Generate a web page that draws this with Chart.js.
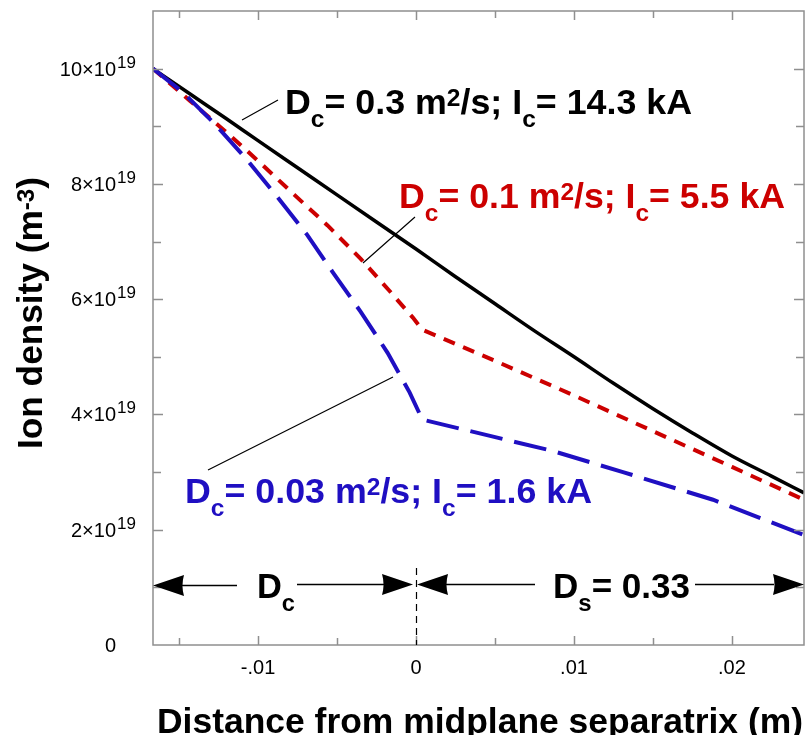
<!DOCTYPE html>
<html>
<head>
<meta charset="utf-8">
<script src="https://cdn.jsdelivr.net/npm/chart.js@4.4.1/dist/chart.umd.min.js"></script>
<style>
  html, body { margin: 0; padding: 0; background: #fff; }
  canvas { display: block; }
</style>
</head>
<body>
<canvas id="density" width="807" height="735"></canvas>
<script>
// distance from midplane separatrix (m), ion density in units of 1e19 m^-3
const xMin = -0.01665;
const xMax = 0.02456;
const yMax = 11;

const dist03 = [-0.01665, -0.0143, -0.012, -0.01, -0.0075, -0.005, -0.0025, 0, 0.0025, 0.005, 0.0075, 0.01, 0.0125, 0.015, 0.0175, 0.02, 0.0225, 0.02456];
const dens03 = [10, 9.56, 9.13, 8.75, 8.28, 7.81, 7.34, 6.87, 6.39, 5.92, 5.45, 5.0, 4.54, 4.10, 3.68, 3.28, 2.93, 2.64];

const dist01 = [-0.01665, -0.0143, -0.0121, -0.01, -0.0077, -0.0056, -0.0035, -0.0017, -0.0002, 0.0004, 0.005, 0.01, 0.015, 0.02, 0.02456];
const dens01 = [10, 9.44, 8.92, 8.40, 7.81, 7.28, 6.70, 6.15, 5.68, 5.47, 4.93, 4.33, 3.71, 3.09, 2.52];

const dist003 = [-0.01665, -0.0148, -0.0127, -0.0107, -0.0088, -0.0069, -0.0053, -0.0035, -0.0018, -0.0004, 0.0004, 0.0086, 0.0131, 0.0188, 0.02456];
const dens003 = [10, 9.6, 9.03, 8.42, 7.78, 7.12, 6.48, 5.78, 5.07, 4.38, 3.91, 3.37, 3.0, 2.52, 1.91];

const xTicks = [-0.015, -0.01, -0.005, 0, 0.005, 0.01, 0.015, 0.02];
const xTickLabels = { "-0.01": "-.01", "0": "0", "0.01": ".01", "0.02": ".02" };
const yTicks = [1, 2, 3, 4, 5, 6, 7, 8, 9, 10];
const yTickLabels = [0, 2, 4, 6, 8, 10];

const RED = "#cc0000";
const BLUE = "#1f0fc2";

const toPoints = (xs, ys) => xs.map((x, i) => ({ x: x, y: ys[i] }));

const BOLD = "'Liberation Sans', Arial, Helvetica, sans-serif";

// draw text with sub/superscripts, stretched to a target width
function drawRich(ctx, parts, x, y, size, color, targetW) {
  const small = Math.round(size * 0.68);
  const fontFor = (p) => "bold " + (p.sub || p.sup ? small : size) + "px " + BOLD;
  let w = 0;
  parts.forEach((p) => {
    ctx.font = fontFor(p);
    w += ctx.measureText(p.t).width;
  });
  const sx = targetW ? targetW / w : 1;
  ctx.save();
  ctx.translate(x, y);
  ctx.scale(sx, 1);
  ctx.fillStyle = color;
  ctx.textBaseline = "alphabetic";
  ctx.textAlign = "left";
  let cx = 0;
  parts.forEach((p) => {
    ctx.font = fontFor(p);
    let dy = 0;
    if (p.sub) dy = size * 0.38;
    if (p.sup) dy = -size * 0.22;
    ctx.fillText(p.t, cx, dy);
    cx += ctx.measureText(p.t).width;
  });
  ctx.restore();
}

function arrowHead(ctx, tipX, y, dir) {
  // dir = -1 points left, 1 points right
  const len = 31, half = 10.5;
  const backX = tipX - dir * len;
  ctx.beginPath();
  ctx.moveTo(tipX, y);
  ctx.lineTo(backX, y - half);
  ctx.quadraticCurveTo(backX + dir * 3, y, backX, y + half);
  ctx.closePath();
  ctx.fill();
}

const decor = {
  id: "decor",
  afterDraw(chart) {
    const ctx = chart.ctx;
    const xs = chart.scales.x;
    const ys = chart.scales.y;
    const a = chart.chartArea;
    ctx.save();

    // frame + inward ticks
    ctx.strokeStyle = "#8f8f8f";
    ctx.lineWidth = 1.5;
    ctx.strokeRect(a.left, a.top, a.right - a.left, a.bottom - a.top);
    ctx.beginPath();
    xTicks.forEach((v) => {
      const px = Math.round(xs.getPixelForValue(v)) + 0.5;
      const len = Math.abs(Math.round(v * 1000) % 10) === 0 ? 9 : 7;
      ctx.moveTo(px, a.bottom); ctx.lineTo(px, a.bottom - len);
      ctx.moveTo(px, a.top); ctx.lineTo(px, a.top + len);
    });
    yTicks.forEach((v) => {
      const py = Math.round(ys.getPixelForValue(v)) + 0.5;
      const len = v % 2 === 0 ? 10 : 8;
      ctx.moveTo(a.left, py); ctx.lineTo(a.left + len, py);
      ctx.moveTo(a.right, py); ctx.lineTo(a.right - len, py);
    });
    ctx.stroke();

    // tick labels
    ctx.fillStyle = "#000";
    ctx.font = "20px " + BOLD;
    ctx.textBaseline = "alphabetic";
    ctx.textAlign = "center";
    Object.keys(xTickLabels).forEach((k) => {
      ctx.fillText(xTickLabels[k], xs.getPixelForValue(parseFloat(k)), a.bottom + 29);
    });
    yTickLabels.forEach((v) => {
      const py = ys.getPixelForValue(v);
      ctx.textAlign = "right";
      ctx.font = "20px " + BOLD;
      if (v === 0) {
        ctx.fillText("0", 116, py + 7);
        return;
      }
      ctx.fillText(v + "\u00d710", 116, py + 7);
      ctx.textAlign = "left";
      ctx.font = "17px " + BOLD;
      ctx.fillText("19", 117, py - 1);
    });

    // axis titles
    drawRich(ctx, [{ t: "Distance from midplane separatrix (m)" }], 157, 733, 35, "#000", 646);
    ctx.save();
    ctx.translate(42, 449);
    ctx.rotate(-Math.PI / 2);
    drawRich(ctx, [{ t: "Ion density (m" }, { t: "-3", sup: true }, { t: ")" }], 0, 0, 35, "#000", 272);
    ctx.restore();

    // curve labels
    drawRich(ctx, [{ t: "D" }, { t: "c", sub: true }, { t: "= 0.3 m" }, { t: "2", sup: true }, { t: "/s; I" }, { t: "c", sub: true }, { t: "= 14.3 kA" }], 285, 114, 35, "#000", 407);
    drawRich(ctx, [{ t: "D" }, { t: "c", sub: true }, { t: "= 0.1 m" }, { t: "2", sup: true }, { t: "/s; I" }, { t: "c", sub: true }, { t: "= 5.5 kA" }], 399, 208, 35, RED, 386);
    drawRich(ctx, [{ t: "D" }, { t: "c", sub: true }, { t: "= 0.03 m" }, { t: "2", sup: true }, { t: "/s; I" }, { t: "c", sub: true }, { t: "= 1.6 kA" }], 185, 503, 35, BLUE, 407);

    // leader lines
    ctx.strokeStyle = "#000";
    ctx.lineWidth = 1.2;
    ctx.beginPath();
    ctx.moveTo(242, 120); ctx.lineTo(278, 100);
    ctx.moveTo(363, 263); ctx.lineTo(415, 217);
    ctx.moveTo(208, 470); ctx.lineTo(393, 377);
    ctx.stroke();

    // region arrows along the bottom
    const ay = Math.round(ys.getPixelForValue(1.04)) + 0.5;
    const pL = xs.getPixelForValue(xMin);
    const p0 = xs.getPixelForValue(0);
    const pR = xs.getPixelForValue(xMax);
    ctx.fillStyle = "#000";
    arrowHead(ctx, pL, ay, -1);
    arrowHead(ctx, p0 - 3, ay - 1, 1);
    arrowHead(ctx, p0 + 1, ay - 1, -1);
    arrowHead(ctx, pR, ay - 1, 1);
    ctx.lineWidth = 1.5;
    ctx.beginPath();
    ctx.moveTo(pL + 28, ay); ctx.lineTo(237, ay);
    ctx.moveTo(297, ay - 1); ctx.lineTo(p0 - 30, ay - 1);
    ctx.moveTo(p0 + 28, ay - 1); ctx.lineTo(535, ay - 1);
    ctx.moveTo(695, ay - 1); ctx.lineTo(pR - 30, ay - 1);
    ctx.stroke();
    drawRich(ctx, [{ t: "D" }, { t: "c", sub: true }], 257, 598, 35, "#000", 38);
    drawRich(ctx, [{ t: "D" }, { t: "s", sub: true }, { t: "= 0.33" }], 553, 598, 35, "#000", 137);

    // separatrix marker
    ctx.lineWidth = 1.2;
    ctx.setLineDash([7, 5]);
    ctx.beginPath();
    ctx.moveTo(Math.round(p0) + 0.5, 568);
    ctx.lineTo(Math.round(p0) + 0.5, a.bottom);
    ctx.stroke();
    ctx.restore();
  }
};

new Chart(document.getElementById("density"), {
  type: "line",
  data: {
    datasets: [
      {
        label: "Dc = 0.03 m2/s",
        data: toPoints(dist003, dens003),
        borderColor: BLUE,
        borderWidth: 4,
        borderDash: [33, 12],
        tension: 0
      },
      {
        label: "Dc = 0.1 m2/s",
        data: toPoints(dist01, dens01),
        borderColor: RED,
        borderWidth: 4,
        borderDash: [12, 9],
        tension: 0
      },
      {
        label: "Dc = 0.3 m2/s",
        data: toPoints(dist03, dens03),
        borderColor: "#000",
        borderWidth: 3.5,
        cubicInterpolationMode: "monotone"
      }
    ]
  },
  options: {
    responsive: false,
    animation: false,
    devicePixelRatio: 1,
    layout: { padding: { left: 153, right: 3, top: 11, bottom: 90 } },
    elements: {
      point: { radius: 0 },
      line: { fill: false, borderCapStyle: "butt" }
    },
    plugins: { legend: { display: false }, tooltip: { enabled: false } },
    scales: {
      x: { type: "linear", min: xMin, max: xMax, display: false },
      y: { type: "linear", min: 0, max: yMax, display: false }
    }
  },
  plugins: [decor]
});
</script>
</body>
</html>
